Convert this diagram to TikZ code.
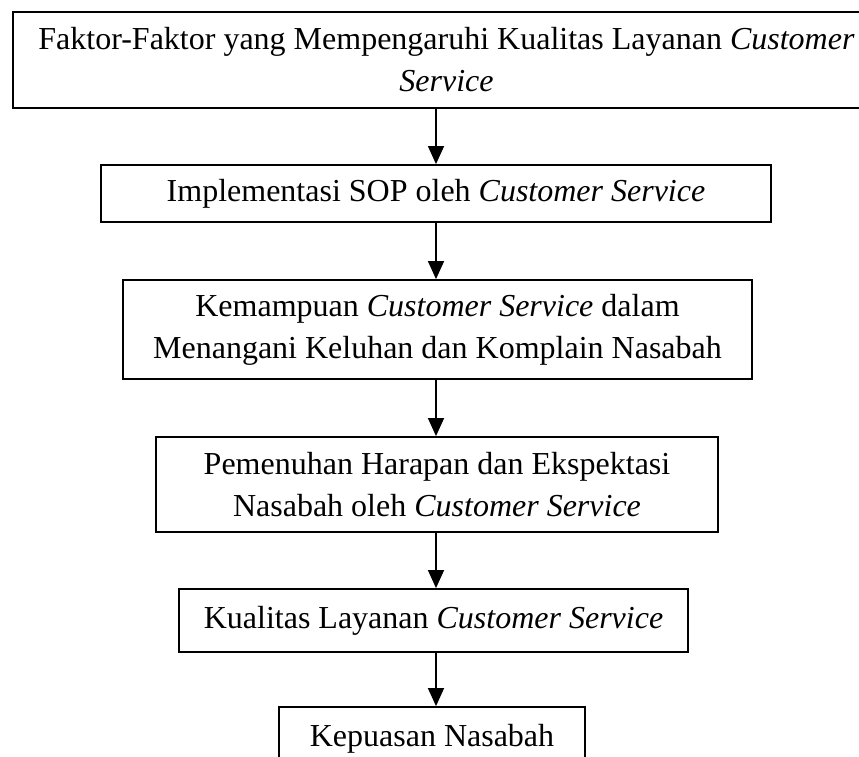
\documentclass[tikz,border=0pt]{standalone}
\usepackage{fontspec}
\setmainfont{Liberation Serif}
\usetikzlibrary{arrows.meta}
\tikzset{
  flowbox/.style={draw=black, line width=1.8pt, align=center, inner sep=0pt,
    font=\fontsize{32}{42}\selectfont},
  flowarrow/.style={line width=1.4pt, -{Triangle[length=18pt,width=16pt]}}
}
\begin{document}
\begin{tikzpicture}[x=1pt,y=-1pt]
\clip (0,0) rectangle (859,756);
\node[flowbox, minimum width=867pt, minimum height=96pt] (b1) at (446.5,60)
  {Faktor-Faktor yang Mempengaruhi Kualitas Layanan \textit{Customer}\\\textit{Service}};
\node[flowbox, minimum width=670pt, minimum height=57pt] (b2) at (436,193.5)
  {Implementasi SOP oleh \textit{Customer Service}};
\node[flowbox, minimum width=629pt, minimum height=99pt] (b3) at (437.5,329.5)
  {Kemampuan \textit{Customer Service} dalam\\Menangani Keluhan dan Komplain Nasabah};
\node[flowbox, minimum width=562pt, minimum height=95pt] (b4) at (437,484.5)
  {Pemenuhan Harapan dan Ekspektasi\\Nasabah oleh \textit{Customer Service}};
\node[flowbox, minimum width=509pt, minimum height=63pt] (b5) at (433.5,620.5)
  {Kualitas Layanan \textit{Customer Service}};
\node[flowbox, minimum width=306pt, minimum height=63pt] (b6) at (432,738.5)
  {Kepuasan Nasabah};
\coordinate (ax) at (436,0);
\draw[flowarrow] (b1.south -| ax) -- (b2.north -| ax);
\draw[flowarrow] (b2.south -| ax) -- (b3.north -| ax);
\draw[flowarrow] (b3.south -| ax) -- (b4.north -| ax);
\draw[flowarrow] (b4.south -| ax) -- (b5.north -| ax);
\draw[flowarrow] (b5.south -| ax) -- (b6.north -| ax);
\end{tikzpicture}
\end{document}
